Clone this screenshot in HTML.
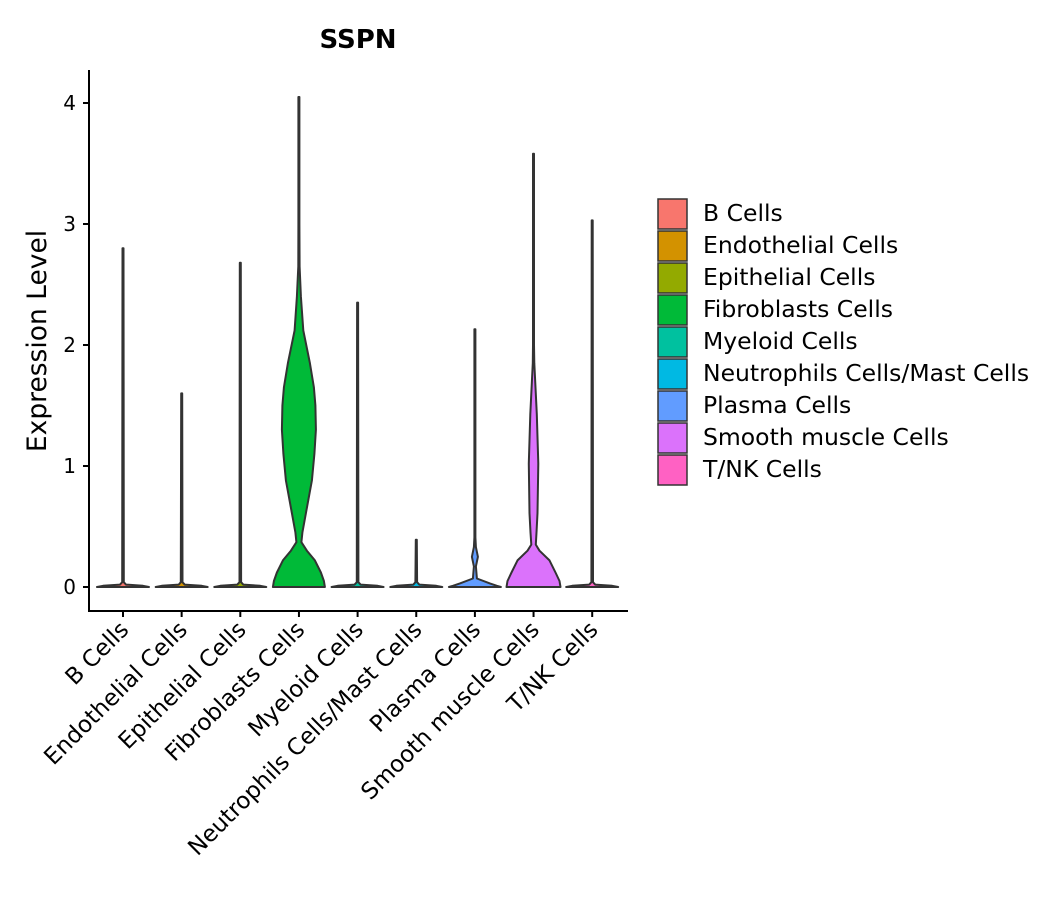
<!DOCTYPE html>
<html><head><meta charset="utf-8"><style>
body{margin:0;background:#fff}
svg{font-family:"DejaVu Sans","Liberation Sans",sans-serif}
</style></head><body>
<svg id="chart" width="1057" height="900" xmlns="http://www.w3.org/2000/svg"></svg>
<script>
const categories=["B Cells","Endothelial Cells","Epithelial Cells","Fibroblasts Cells","Myeloid Cells","Neutrophils Cells/Mast Cells","Plasma Cells","Smooth muscle Cells","T/NK Cells"];
const colors=["#F8766D","#D39200","#93AA00","#00BA38","#00C19F","#00B9E3","#619CFF","#DB72FB","#FF61C3"];
const maxValues=[2.80,1.60,2.68,4.05,2.35,0.39,2.13,3.58,3.03];
const thinLevels=[0,0.01,0.02,0.04];
const thinWidths=[26,20,3,0.8];
const fibroLevels=[0,0.05,0.12,0.22,0.30,0.37,0.45,0.61,0.88,1.1,1.30,1.5,1.65,1.85,2.12,2.4,2.65,3.0];
const fibroWidths=[26,25,22,16,8,2.5,3.5,7,13,15.5,17,16.5,15,11,4.3,2,0.7,0.5];
const plasmaLevels=[0,0.01,0.03,0.07,0.17,0.25,0.33,0.41,0.6];
const plasmaWidths=[26,22,15,2,1,3,1,0.5,0.5];
const smoothLevels=[0,0.05,0.12,0.22,0.30,0.35,0.45,0.61,1.02,1.43,1.85,2.0];
const smoothWidths=[27,26,22,16,6,2.3,3,4,4.7,3.3,0.7,0.5];
const yTicks=[0,1,2,3,4];
const legendLabels=categories;

const svg=document.getElementById('chart');
const NS="http://www.w3.org/2000/svg";
function mk(tag,attrs,parent){const e=document.createElementNS(NS,tag);for(const k in attrs)e.setAttribute(k,attrs[k]);(parent||svg).appendChild(e);return e;}
const y0=587,ppu=121;
function yScale(v){return y0-v*ppu;}
function xScale(i){return 123+i*58.65;}

const title=mk('text',{x:358,y:48,'text-anchor':'middle','font-size':26,'font-weight':'bold',fill:'#000'});
title.textContent="SSPN";



const yt=mk('text',{transform:'translate(46,341) rotate(-90)','text-anchor':'middle','font-size':26.5,fill:'#000'});
yt.textContent="Expression Level";



categories.forEach((c,i)=>{
  let lv,wd;
  if(i===3){lv=fibroLevels;wd=fibroWidths;}
  else if(i===6){lv=plasmaLevels;wd=plasmaWidths;}
  else if(i===7){lv=smoothLevels;wd=smoothWidths;}
  else {lv=thinLevels;wd=thinWidths;}
  const cx=xScale(i),mx=maxValues[i];
  const pts=[];
  for(let k=0;k<lv.length&&lv[k]<mx;k++)pts.push([lv[k],wd[k]]);
  pts.push([mx,0.5]);
  let right=pts.map(p=>(cx+p[1]).toFixed(1)+','+yScale(p[0]).toFixed(1));
  let left=pts.slice().reverse().map(p=>(cx-p[1]).toFixed(1)+','+yScale(p[0]).toFixed(1));
  const p=mk('polygon',{points:right.concat(left).join(' '),fill:colors[i],stroke:'#333','stroke-width':2,'stroke-linejoin':'round'});
  
  
});

const ax=mk('path',{d:'M89,70 V611 H628',fill:'none',stroke:'#000','stroke-width':2});


yTicks.forEach(t=>{
  const y=yScale(t);
  mk('line',{x1:83,x2:89,y1:y,y2:y,stroke:'#000','stroke-width':2});
  const tx=mk('text',{x:76,y:y+7,'text-anchor':'end','font-size':20,fill:'#000'});
  tx.textContent=t;
  
  
});
categories.forEach((c,i)=>{
  const x=xScale(i);
  mk('line',{x1:x,x2:x,y1:611,y2:617,stroke:'#000','stroke-width':2});
  const tx=mk('text',{transform:`translate(${x+7},${631}) rotate(-45)`,'text-anchor':'end','font-size':23,fill:'#000'});
  tx.textContent=c;
  
  
});

legendLabels.forEach((c,i)=>{
  const y=198+i*32;
  const r=mk('rect',{x:658,y:y+1,width:29,height:30,fill:colors[i],stroke:'#333','stroke-width':1.5});
  
  
  const tx=mk('text',{x:703,y:y+23,'font-size':23.5,fill:'#000'});
  tx.textContent=c;
  
  
});
</script>
</body></html>
